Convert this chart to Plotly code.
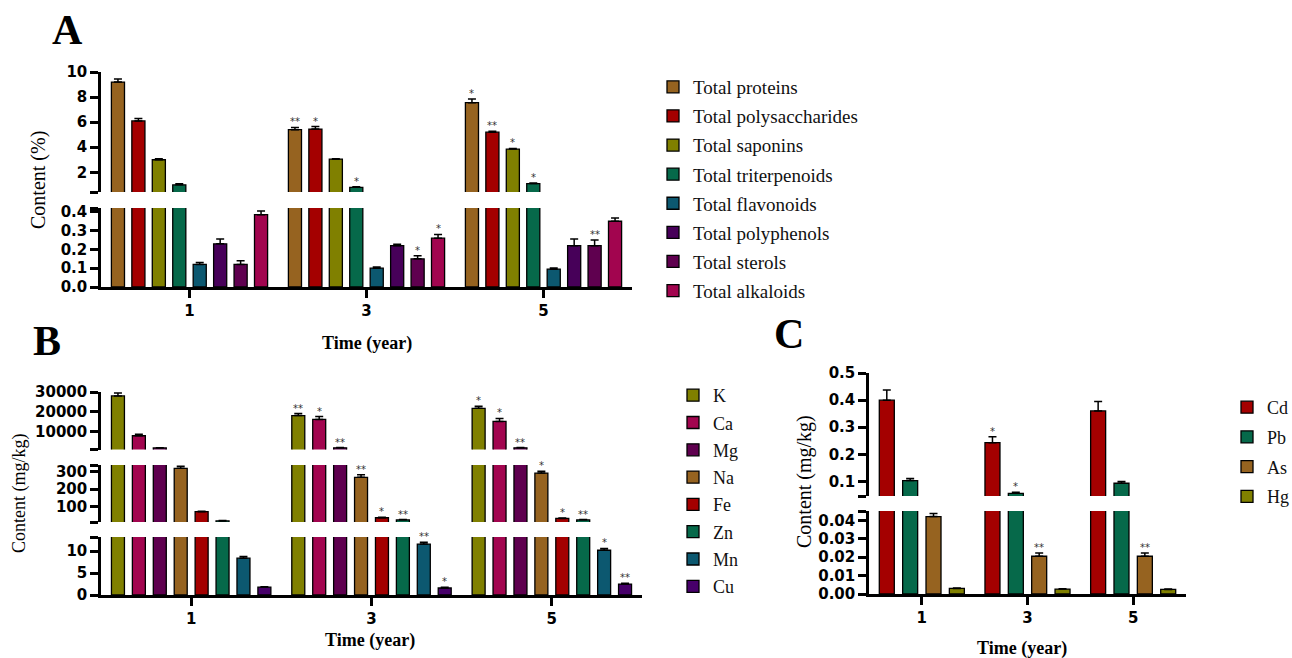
import plotly.graph_objects as go

W, H = 1292, 658
years = ["1", "3", "5"]

# ---------------- Panel A : Content (%) ----------------
a_names = ["Total proteins", "Total polysaccharides", "Total saponins", "Total triterpenoids",
           "Total flavonoids", "Total polyphenols", "Total sterols", "Total alkaloids"]
a_colors = ["#966320", "#A40000", "#808000", "#06694A", "#0C5870", "#470059", "#5F004F", "#A2054F"]
a_mean_y1 = [9.2, 6.1, 3.0, 1.0, 0.12, 0.23, 0.12, 0.385]
a_mean_y3 = [5.4, 5.45, 3.05, 0.8, 0.10, 0.22, 0.15, 0.26]
a_mean_y5 = [7.55, 5.2, 3.85, 1.1, 0.095, 0.22, 0.22, 0.35]
a_err_y1 = [0.25, 0.2, 0.08, 0.08, 0.01, 0.026, 0.02, 0.02]
a_err_y3 = [0.18, 0.2, 0.04, 0.05, 0.006, 0.008, 0.016, 0.02]
a_err_y5 = [0.3, 0.08, 0.05, 0.05, 0.006, 0.035, 0.03, 0.017]
a_sig_y1 = ["", "", "", "", "", "", "", ""]
a_sig_y3 = ["**", "*", "", "*", "", "", "*", "*"]
a_sig_y5 = ["*", "**", "*", "*", "", "", "**", ""]

# ---------------- Panel B : Content (mg/kg), minerals ----------------
b_names = ["K", "Ca", "Mg", "Na", "Fe", "Zn", "Mn", "Cu"]
b_colors = ["#808000", "#A2054F", "#5F004F", "#966320", "#A40000", "#06694A", "#0C5870", "#47006A"]
b_mean_y1 = [28000, 7700, 1500, 317, 72, 20, 8.4, 1.8]
b_mean_y3 = [18000, 16000, 1550, 266, 38, 26, 11.6, 1.6]
b_mean_y5 = [21700, 15000, 1550, 290, 34, 26, 10.2, 2.5]
b_err_y1 = [1500, 800, 150, 12, 3, 2, 0.35, 0.1]
b_err_y3 = [1000, 1500, 150, 15, 3, 2, 0.4, 0.15]
b_err_y5 = [1000, 1500, 150, 10, 3, 2, 0.4, 0.2]
b_sig_y1 = ["", "", "", "", "", "", "", ""]
b_sig_y3 = ["**", "*", "**", "**", "*", "**", "**", "*"]
b_sig_y5 = ["*", "*", "**", "*", "*", "**", "*", "**"]

# ---------------- Panel C : Content (mg/kg), heavy metals ----------------
c_names = ["Cd", "Pb", "As", "Hg"]
c_colors = ["#A40000", "#06694A", "#966320", "#808000"]
c_mean_y1 = [0.40, 0.103, 0.042, 0.003]
c_mean_y3 = [0.243, 0.056, 0.0205, 0.0027]
c_mean_y5 = [0.36, 0.093, 0.0205, 0.0025]
c_err_y1 = [0.037, 0.008, 0.0017, 0.0002]
c_err_y3 = [0.022, 0.004, 0.0017, 0.0002]
c_err_y5 = [0.035, 0.007, 0.0017, 0.0002]
c_sig_y1 = ["", "", "", ""]
c_sig_y3 = ["*", "*", "**", ""]
c_sig_y5 = ["", "", "**", ""]


def dx(px):
    return px / W


def dy(py):
    return 1 - py / H


TICKFONT = dict(family="DejaVu Sans", size=15, color="black", weight="bold")
SERIF = "Liberation Serif"

panels = [
    dict(names=a_names, colors=a_colors,
         means=[a_mean_y1, a_mean_y3, a_mean_y5], errs=[a_err_y1, a_err_y3, a_err_y5],
         sigs=[a_sig_y1, a_sig_y3, a_sig_y5],
         xaxis="x", xdom=(101, 632), slot=0.1155, width=0.074, legend="legend",
         segs=[("y", (0, 0.4205), (287, 208), [0, 0.1, 0.2, 0.3, 0.4, 0.42],
                ["0.0", "0.1", "0.2", "0.3", "0.4", ""]),
               ("y2", (0.43, 10.0), (192, 72), [0.43, 2, 4, 6, 8, 10],
                ["", "2", "4", "6", "8", "10"])]),
    dict(names=b_names, colors=b_colors,
         means=[b_mean_y1, b_mean_y3, b_mean_y5], errs=[b_err_y1, b_err_y3, b_err_y5],
         sigs=[b_sig_y1, b_sig_y3, b_sig_y5],
         xaxis="x2", xdom=(101, 642), slot=0.116, width=0.072, legend="legend2",
         segs=[("y3", (0, 13.22), (595, 537), [0, 5, 10, 13.2], ["0", "5", "10", ""]),
               ("y4", (14, 335.5), (522, 465), [14, 100, 200, 300, 335],
                ["", "100", "200", "300", ""]),
               ("y5", (700, 30000), (449.5, 392), [700, 10000, 20000, 30000],
                ["", "10000", "20000", "30000"])]),
    dict(names=c_names, colors=c_colors,
         means=[c_mean_y1, c_mean_y3, c_mean_y5], errs=[c_err_y1, c_err_y3, c_err_y5],
         sigs=[c_sig_y1, c_sig_y3, c_sig_y5],
         xaxis="x3", xdom=(869, 1186), slot=0.221, width=0.142, legend="legend3",
         segs=[("y6", (0, 0.04505), (594, 511), [0, 0.01, 0.02, 0.03, 0.04, 0.045],
                ["0.00", "0.01", "0.02", "0.03", "0.04", ""]),
               ("y7", (0.046, 0.5002), (496, 373), [0.046, 0.1, 0.2, 0.3, 0.4, 0.5],
                ["", "0.1", "0.2", "0.3", "0.4", "0.5"])]),
]

fig = go.Figure()
layout = {}
annotations = []

for p in panels:
    n = len(p["names"])
    xname = p["xaxis"]
    xkey = "xaxis" + xname[1:]
    layout[xkey] = dict(
        domain=[dx(p["xdom"][0]), dx(p["xdom"][1])], anchor=p["segs"][0][0],
        type="category", range=[-0.5, 2.5], showline=True, linecolor="black", linewidth=2.5,
        ticks="outside", ticklen=8, tickwidth=2.5, tickcolor="black", showgrid=False,
        zeroline=False, tickfont=TICKFONT, fixedrange=True, automargin=False)
    for (yname, rng, (pb, pt), tv, tt) in p["segs"]:
        ykey = "yaxis" + yname[1:]
        layout[ykey] = dict(
            domain=[dy(pb), dy(pt)], range=list(rng), anchor=xname,
            tickmode="array", tickvals=tv, ticktext=tt,
            showline=True, linecolor="black", linewidth=2.5,
            ticks="outside", ticklen=8, tickwidth=2.5, tickcolor="black",
            showgrid=False, zeroline=False, tickfont=TICKFONT, fixedrange=True,
            automargin=False)
    for i in range(n):
        vals = [p["means"][g][i] for g in range(3)]
        errs = [p["errs"][g][i] for g in range(3)]
        center = (i - (n - 1) / 2) * p["slot"]
        for k, (yname, rng, _, _, _) in enumerate(p["segs"]):
            # a bar is drawn in a segment only if it reaches into that segment
            seg_vals = [v if (k == 0 or v > rng[0]) else None for v in vals]
            fig.add_trace(go.Bar(
                x=years, y=seg_vals, name=p["names"][i], xaxis=xname, yaxis=yname,
                width=p["width"], offset=center - p["width"] / 2,
                marker=dict(color=p["colors"][i], line=dict(color="black", width=1.3)),
                error_y=dict(type="data", array=errs, arrayminus=[0, 0, 0], symmetric=False,
                             color="black", thickness=1.5, width=4),
                legendgroup=p["legend"] + str(i), showlegend=(k == 0), legend=p["legend"]))
        # significance marks
        for g in range(3):
            s = p["sigs"][g][i]
            if not s:
                continue
            top = vals[g] + errs[g]
            yref = p["segs"][0][0]
            for (yname, rng, _, _, _) in p["segs"]:
                if vals[g] > rng[0]:
                    yref = yname
            annotations.append(dict(
                x=g + center, y=top, xref=xname, yref=yref, text=s, showarrow=False,
                yanchor="bottom", xanchor="center", yshift=-2,
                font=dict(family="DejaVu Sans", size=10, color="#333")))


def label(text, x, y, size, bold=False, angle=0):
    annotations.append(dict(
        x=dx(x), y=dy(y), xref="paper", yref="paper", text=text, showarrow=False,
        textangle=angle, xanchor="center", yanchor="middle",
        font=dict(family=SERIF, size=size, color="black", weight="bold" if bold else "normal")))


label("A", 67, 30, 42, True)
label("B", 47, 341, 42, True)
label("C", 789, 334, 42, True)
label("Content (%)", 38, 180, 20, angle=-90)
label("Time (year)", 367, 343, 18, True)
label("Content (mg/kg)", 19, 493, 18, angle=-90)
label("Time (year)", 370, 640, 18, True)
label("Content (mg/kg)", 804, 482, 20, angle=-90)
label("Time (year)", 1022, 648, 18, True)

legend_common = dict(xanchor="left", yanchor="top", bgcolor="rgba(0,0,0,0)",
                     traceorder="grouped", itemclick=False, itemdoubleclick=False)
layout["legend"] = dict(x=dx(653), y=dy(68), font=dict(family=SERIF, size=19, color="#111"),
                        tracegroupgap=1.4, **legend_common)
layout["legend2"] = dict(x=dx(673), y=dy(377), font=dict(family=SERIF, size=18, color="#111"),
                         tracegroupgap=0.9, **legend_common)
layout["legend3"] = dict(x=dx(1227), y=dy(389), font=dict(family=SERIF, size=18, color="#111"),
                         tracegroupgap=3.3, **legend_common)

fig.update_layout(
    width=W, height=H, margin=dict(l=0, r=0, t=0, b=0, pad=0, autoexpand=False),
    paper_bgcolor="white", plot_bgcolor="white",
    barmode="group", annotations=annotations, **layout)

fig.write_html("out.html", config={"displayModeBar": False},
               post_script="document.body.style.margin='0';document.body.style.overflow='hidden';")
